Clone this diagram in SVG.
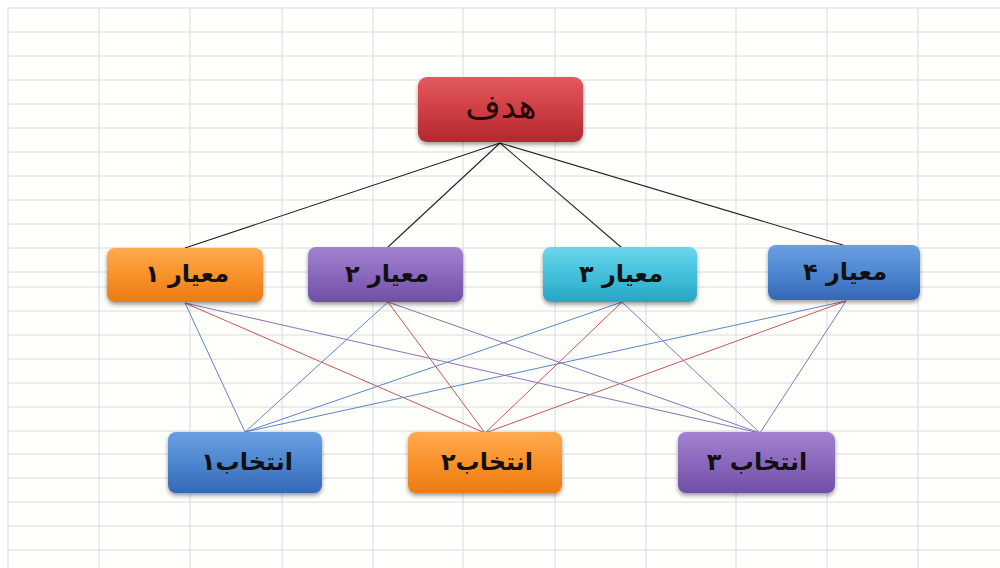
<svg xmlns="http://www.w3.org/2000/svg" width="1000" height="568" viewBox="0 0 1000 568">
<defs>
<style>
.grid line{stroke:#dadae2;stroke-width:1}
.lbl{font-family:"DejaVu Sans",sans-serif;font-weight:bold;font-size:24px;fill:#111;text-anchor:middle;dominant-baseline:central}
.goal{font-family:"DejaVu Sans",sans-serif;font-size:34px;fill:#240606;text-anchor:middle;dominant-baseline:central}
.top{stroke:#222;stroke-width:1.1}
.a1{stroke:#5a86c4;stroke-width:1}
.a2{stroke:#c8545a;stroke-width:1}
.a3{stroke:#8a72b8;stroke-width:1}
</style>
<linearGradient id="gRed" x1="0" y1="0" x2="0" y2="1"><stop offset="0" stop-color="#e25a5f"/><stop offset="0.5" stop-color="#cf3e44"/><stop offset="1" stop-color="#b2282e"/></linearGradient>
<linearGradient id="gOrange" x1="0" y1="0" x2="0" y2="1"><stop offset="0" stop-color="#ffaa50"/><stop offset="0.5" stop-color="#f8922a"/><stop offset="1" stop-color="#ec7a12"/></linearGradient>
<linearGradient id="gPurple" x1="0" y1="0" x2="0" y2="1"><stop offset="0" stop-color="#a283cf"/><stop offset="0.5" stop-color="#8a68bd"/><stop offset="1" stop-color="#6f4fa5"/></linearGradient>
<linearGradient id="gCyan" x1="0" y1="0" x2="0" y2="1"><stop offset="0" stop-color="#6ad6ec"/><stop offset="0.5" stop-color="#43c0dc"/><stop offset="1" stop-color="#27a6c4"/></linearGradient>
<linearGradient id="gBlue" x1="0" y1="0" x2="0" y2="1"><stop offset="0" stop-color="#6aa0e2"/><stop offset="0.5" stop-color="#4e86d0"/><stop offset="1" stop-color="#3567b8"/></linearGradient>
<filter id="sh" x="-10%" y="-10%" width="120%" height="130%"><feDropShadow dx="0" dy="2.5" stdDeviation="2" flood-color="#000" flood-opacity="0.4"/></filter>
</defs>
<rect width="1000" height="568" fill="#ffffff"/>
<rect x="8" y="8" width="992" height="560" fill="#fffffc"/>
<g class="grid">
<line x1="8" y1="8" x2="8" y2="568"/><line x1="99" y1="8" x2="99" y2="568"/><line x1="190" y1="8" x2="190" y2="568"/><line x1="282" y1="8" x2="282" y2="568"/><line x1="373" y1="8" x2="373" y2="568"/><line x1="463" y1="8" x2="463" y2="568"/><line x1="555" y1="8" x2="555" y2="568"/><line x1="646" y1="8" x2="646" y2="568"/><line x1="736" y1="8" x2="736" y2="568"/><line x1="827" y1="8" x2="827" y2="568"/><line x1="918" y1="8" x2="918" y2="568"/>
<line x1="8" y1="8" x2="1000" y2="8"/><line x1="8" y1="32" x2="1000" y2="32"/><line x1="8" y1="56" x2="1000" y2="56"/><line x1="8" y1="80" x2="1000" y2="80"/><line x1="8" y1="104" x2="1000" y2="104"/><line x1="8" y1="128" x2="1000" y2="128"/><line x1="8" y1="152" x2="1000" y2="152"/><line x1="8" y1="176" x2="1000" y2="176"/><line x1="8" y1="200" x2="1000" y2="200"/><line x1="8" y1="224" x2="1000" y2="224"/><line x1="8" y1="248" x2="1000" y2="248"/><line x1="8" y1="272" x2="1000" y2="272"/><line x1="8" y1="287" x2="1000" y2="287"/><line x1="8" y1="311" x2="1000" y2="311"/><line x1="8" y1="335" x2="1000" y2="335"/><line x1="8" y1="359" x2="1000" y2="359"/><line x1="8" y1="383" x2="1000" y2="383"/><line x1="8" y1="407" x2="1000" y2="407"/><line x1="8" y1="431" x2="1000" y2="431"/><line x1="8" y1="454" x2="1000" y2="454"/><line x1="8" y1="478" x2="1000" y2="478"/><line x1="8" y1="502" x2="1000" y2="502"/><line x1="8" y1="526" x2="1000" y2="526"/><line x1="8" y1="550" x2="1000" y2="550"/>
</g>
<g id="connectors">
<line class="top" x1="500" y1="143" x2="185" y2="248"/>
<line class="top" x1="500" y1="143" x2="388" y2="247"/>
<line class="top" x1="500" y1="143" x2="622" y2="248"/>
<line class="top" x1="500" y1="143" x2="846" y2="246"/>
<line class="a1" x1="185" y1="303" x2="245" y2="432"/>
<line class="a1" x1="388" y1="302" x2="245" y2="432"/>
<line class="a1" x1="622" y1="302" x2="245" y2="432"/>
<line class="a1" x1="846" y1="301" x2="245" y2="432"/>
<line class="a2" x1="185" y1="303" x2="485" y2="433"/>
<line class="a2" x1="388" y1="302" x2="485" y2="433"/>
<line class="a2" x1="622" y1="302" x2="485" y2="433"/>
<line class="a2" x1="846" y1="301" x2="485" y2="433"/>
<line class="a3" x1="185" y1="303" x2="760" y2="433"/>
<line class="a3" x1="388" y1="302" x2="760" y2="433"/>
<line class="a3" x1="622" y1="302" x2="760" y2="433"/>
<line class="a3" x1="846" y1="301" x2="760" y2="433"/>
</g>
<g id="goal"><rect x="418" y="77" width="165" height="65" rx="9" fill="url(#gRed)" filter="url(#sh)"/><text class="goal" x="501" y="106">هدف</text></g>
<g id="c1"><rect x="107" y="248" width="156" height="54" rx="8" fill="url(#gOrange)" filter="url(#sh)"/><text class="lbl" x="187" y="274">معیار ۱</text></g>
<g id="c2"><rect x="308" y="247" width="155" height="55" rx="8" fill="url(#gPurple)" filter="url(#sh)"/><text class="lbl" x="387" y="274">معیار ۲</text></g>
<g id="c3"><rect x="543" y="247" width="154" height="55" rx="8" fill="url(#gCyan)" filter="url(#sh)"/><text class="lbl" x="621" y="274">معیار ۳</text></g>
<g id="c4"><rect x="768" y="245" width="152" height="55" rx="8" fill="url(#gBlue)" filter="url(#sh)"/><text class="lbl" x="845" y="272">معیار ۴</text></g>
<g id="a1"><rect x="168" y="432" width="154" height="61" rx="8" fill="url(#gBlue)" filter="url(#sh)"/><text class="lbl" x="247" y="462">انتخاب۱</text></g>
<g id="a2"><rect x="408" y="432" width="154" height="61" rx="8" fill="url(#gOrange)" filter="url(#sh)"/><text class="lbl" x="487" y="462">انتخاب۲</text></g>
<g id="a3"><rect x="678" y="432" width="157" height="61" rx="8" fill="url(#gPurple)" filter="url(#sh)"/><text class="lbl" x="757" y="462">انتخاب ۳</text></g>
</svg>
